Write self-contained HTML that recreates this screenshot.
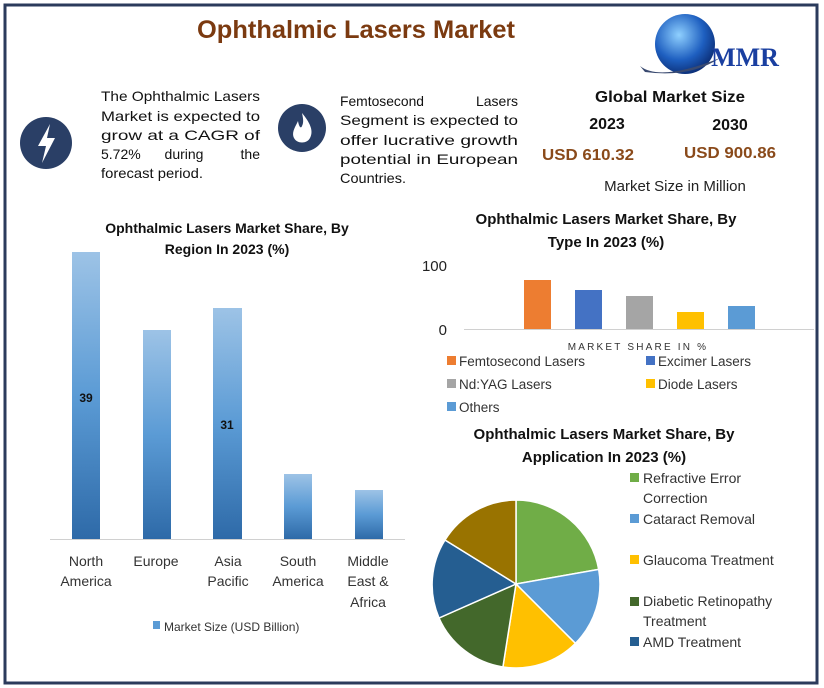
<!DOCTYPE html>
<html><head><meta charset="utf-8"><style>
html,body{margin:0;padding:0;background:#fff;}
svg{display:block;font-family:"Liberation Sans",sans-serif;}
.b{font-weight:bold}
</style></head><body>
<svg width="824" height="688" viewBox="0 0 824 688" xmlns="http://www.w3.org/2000/svg">
<defs>
<linearGradient id="g" x1="0" y1="0" x2="0" y2="1">
<stop offset="0" stop-color="#9dc3e6"/><stop offset="0.5" stop-color="#5b9bd5"/><stop offset="1" stop-color="#2e6aa8"/>
</linearGradient>
<radialGradient id="globe" cx="0.4" cy="0.35" r="0.7">
<stop offset="0" stop-color="#8fd0ff"/><stop offset="0.6" stop-color="#1e5fc0"/><stop offset="1" stop-color="#0a2a70"/>
</radialGradient>
</defs>
<rect x="5" y="5" width="812" height="678" fill="#fff" stroke="#2b3b5c" stroke-width="3"/>
<text x="356" y="38" text-anchor="middle" font-size="25" class="b" fill="#7b3a10" textLength="318" lengthAdjust="spacingAndGlyphs">Ophthalmic Lasers Market</text>
<circle cx="685" cy="44" r="30" fill="url(#globe)"/>
<path d="M640 66 Q660 82 720 58 Q690 78 645 72 Z" fill="#3a4a70"/>
<text x="745" y="66" text-anchor="middle" font-family="Liberation Serif,serif" font-size="26" class="b" fill="#1a3fa0">MMR</text>
<circle cx="46" cy="143" r="26" fill="#2a3f66"/>
<path d="M50 124 L38 146 L46 146 L42 163 L55 138 L47 138 Z" fill="#fff"/>
<circle cx="302" cy="128" r="24" fill="#2a3f66"/>
<path d="M302 113 C312 125 313 132 310 138 C307 144 297 144 294 138 C291 132 296 126 298 121 C299 127 301 129 302 126 C304 122 303 118 302 113 Z" fill="#fff"/>
<g font-size="14" fill="#111">
<text x="101" y="101" textLength="159" lengthAdjust="spacingAndGlyphs">The Ophthalmic Lasers</text>
<text x="101" y="121" textLength="159" lengthAdjust="spacingAndGlyphs">Market is expected to</text>
<text x="101" y="140" textLength="159" lengthAdjust="spacingAndGlyphs">grow at a CAGR of</text>
<text x="101" y="159">5.72%</text><text x="184" y="159" text-anchor="middle">during</text><text x="260" y="159" text-anchor="end">the</text>
<text x="101" y="178" textLength="102" lengthAdjust="spacingAndGlyphs">forecast period.</text>
<text x="340" y="106" textLength="84" lengthAdjust="spacingAndGlyphs">Femtosecond</text><text x="518" y="106" text-anchor="end">Lasers</text>
<text x="340" y="125" textLength="178" lengthAdjust="spacingAndGlyphs">Segment is expected to</text>
<text x="340" y="145" textLength="178" lengthAdjust="spacingAndGlyphs">offer lucrative growth</text>
<text x="340" y="164" textLength="178" lengthAdjust="spacingAndGlyphs">potential in European</text>
<text x="340" y="183" textLength="66" lengthAdjust="spacingAndGlyphs">Countries.</text>
</g>
<text x="670" y="102" text-anchor="middle" font-size="16" class="b" fill="#111" textLength="150" lengthAdjust="spacingAndGlyphs">Global Market Size</text>
<text x="607" y="129" text-anchor="middle" font-size="16" class="b" fill="#111">2023</text>
<text x="730" y="130" text-anchor="middle" font-size="16" class="b" fill="#111">2030</text>
<text x="588" y="160" text-anchor="middle" font-size="16" class="b" fill="#8a4a1a" textLength="92" lengthAdjust="spacingAndGlyphs">USD 610.32</text>
<text x="730" y="158" text-anchor="middle" font-size="16" class="b" fill="#8a4a1a" textLength="92" lengthAdjust="spacingAndGlyphs">USD 900.86</text>
<text x="675" y="191" text-anchor="middle" font-size="15" fill="#222">Market Size in Million</text>
<text x="227" y="233" text-anchor="middle" font-size="14" class="b" fill="#111">Ophthalmic Lasers Market Share, By</text>
<text x="227" y="254" text-anchor="middle" font-size="14" class="b" fill="#111">Region In 2023 (%)</text>
<rect x="72" y="252" width="28" height="287" fill="url(#g)"/>
<rect x="143" y="330" width="28" height="209" fill="url(#g)"/>
<rect x="213" y="308" width="29" height="231" fill="url(#g)"/>
<rect x="284" y="474" width="28" height="65" fill="url(#g)"/>
<rect x="355" y="490" width="28" height="49" fill="url(#g)"/>
<line x1="50" y1="539.5" x2="405" y2="539.5" stroke="#d0d0d0"/>
<text x="86" y="402" text-anchor="middle" font-size="12" class="b" fill="#111">39</text>
<text x="227" y="429" text-anchor="middle" font-size="12" class="b" fill="#111">31</text>
<g font-size="14" fill="#333" text-anchor="middle">
<text x="86" y="566">North</text><text x="86" y="586">America</text>
<text x="156" y="566">Europe</text>
<text x="228" y="566">Asia</text><text x="228" y="586">Pacific</text>
<text x="298" y="566">South</text><text x="298" y="586">America</text>
<text x="368" y="566">Middle</text><text x="368" y="586">East &amp;</text><text x="368" y="607">Africa</text>
</g>
<rect x="153" y="621" width="7" height="8" fill="#5b9bd5"/>
<text x="164" y="631" font-size="12" fill="#333">Market Size (USD Billion)</text>
<text x="606" y="224" text-anchor="middle" font-size="15" class="b" fill="#111">Ophthalmic Lasers Market Share, By</text>
<text x="606" y="247" text-anchor="middle" font-size="15" class="b" fill="#111">Type In 2023 (%)</text>
<text x="447" y="271" text-anchor="end" font-size="15" fill="#222">100</text>
<text x="447" y="335" text-anchor="end" font-size="15" fill="#222">0</text>
<line x1="464" y1="329.5" x2="814" y2="329.5" stroke="#d0d0d0"/>
<rect x="524" y="280" width="27" height="49" fill="#ed7d31"/>
<rect x="575" y="290" width="27" height="39" fill="#4472c4"/>
<rect x="626" y="296" width="27" height="33" fill="#a5a5a5"/>
<rect x="677" y="312" width="27" height="17" fill="#ffc000"/>
<rect x="728" y="306" width="27" height="23" fill="#5b9bd5"/>
<text x="638" y="350" text-anchor="middle" font-size="10" letter-spacing="2.2" fill="#333">MARKET SHARE IN %</text>
<g font-size="13.5" fill="#333">
<rect x="447" y="356" width="9" height="9" fill="#ed7d31"/><text x="459" y="366">Femtosecond Lasers</text>
<rect x="646" y="356" width="9" height="9" fill="#4472c4"/><text x="658" y="366">Excimer Lasers</text>
<rect x="447" y="379" width="9" height="9" fill="#a5a5a5"/><text x="459" y="389">Nd:YAG Lasers</text>
<rect x="646" y="379" width="9" height="9" fill="#ffc000"/><text x="658" y="389">Diode Lasers</text>
<rect x="447" y="402" width="9" height="9" fill="#5b9bd5"/><text x="459" y="412">Others</text>
</g>
<text x="604" y="439" text-anchor="middle" font-size="15" class="b" fill="#111">Ophthalmic Lasers Market Share, By</text>
<text x="604" y="462" text-anchor="middle" font-size="15" class="b" fill="#111">Application In 2023 (%)</text>
<g stroke="#fff" stroke-width="1.5">
<path d="M516 584 L516 500 A84 84 0 0 1 598.7 569.4 Z" fill="#70ad47"/>
<path d="M516 584 L598.7 569.4 A84 84 0 0 1 575.4 643.4 Z" fill="#5b9bd5"/>
<path d="M516 584 L575.4 643.4 A84 84 0 0 1 502.9 667 Z" fill="#ffc000"/>
<path d="M516 584 L502.9 667 A84 84 0 0 1 439 618 Z" fill="#43682b"/>
<path d="M516 584 L439 618 A84 84 0 0 1 445 540 Z" fill="#255e91"/>
<path d="M516 584 L445 540 A84 84 0 0 1 516 500 Z" fill="#997300"/>
</g>
<g font-size="14" fill="#333">
<rect x="630" y="473" width="9" height="9" fill="#70ad47"/><text x="643" y="483">Refractive Error</text><text x="643" y="503">Correction</text>
<rect x="630" y="514" width="9" height="9" fill="#5b9bd5"/><text x="643" y="524">Cataract Removal</text>
<rect x="630" y="555" width="9" height="9" fill="#ffc000"/><text x="643" y="565">Glaucoma Treatment</text>
<rect x="630" y="597" width="9" height="9" fill="#43682b"/><text x="643" y="606">Diabetic Retinopathy</text><text x="643" y="626">Treatment</text>
<rect x="630" y="637" width="9" height="9" fill="#255e91"/><text x="643" y="647">AMD Treatment</text>
</g>
</svg>
</body></html>
